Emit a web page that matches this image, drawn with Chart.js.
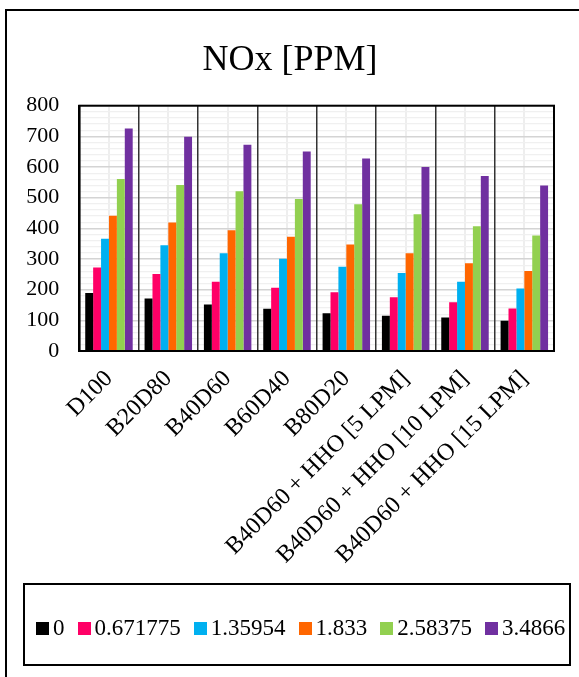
<!DOCTYPE html>
<html>
<head>
<meta charset="utf-8">
<script src="https://cdn.jsdelivr.net/npm/chart.js@4/dist/chart.umd.min.js"></script>
<style>
  html, body { margin: 0; padding: 0; background: #fff; width: 579px; height: 677px; overflow: hidden; }
  #frame { position: absolute; left: 5px; top: 9px; width: 700px; height: 800px; border: 2px solid #000; box-sizing: border-box; }
  #legendFrame { position: absolute; left: 23px; top: 583px; width: 548px; height: 83px; border: 2px solid #000; box-sizing: border-box; }
  #wrap { position: absolute; left: 0; top: 0; width: 579px; height: 677px; }
  #legend { position: absolute; left: 36px; top: 614px; height: 28px; display: flex; align-items: center;
            font-family: 'Liberation Serif', 'Times New Roman', serif; font-size: 23px; color: #000; white-space: nowrap; }
  #legend .item { display: flex; align-items: center; margin-right: 13px; }
  #legend .item:last-child { margin-right: 0; }
  #legend .sw { display: inline-block; width: 13px; height: 13px; margin-right: 4px; }
</style>
</head>
<body>
<div id="frame"></div>
<div id="legendFrame"></div>
<div id="wrap"><canvas id="chart" width="579" height="677"></canvas></div>
<div id="legend"></div>
<script>
// Fuel blends on the category axis
const categories = ['D100', 'B20D80', 'B40D60', 'B60D40', 'B80D20',
  'B40D60 + HHO [5 LPM]', 'B40D60 + HHO [10 LPM]', 'B40D60 + HHO [15 LPM]'];

// Series names (legend entries)
const seriesNames = ['0', '0.671775', '1.35954', '1.833', '2.58375', '3.4866'];

// NOx emissions [PPM] for each series, one value per blend
const nox_0        = [189, 171, 152, 138, 123, 115, 109, 99];
const nox_0671775  = [272, 251, 226, 206, 192, 175, 159, 139];
const nox_135954   = [366, 345, 319, 301, 275, 254, 226, 204];
const nox_1833     = [441, 419, 394, 373, 347, 319, 286, 261];
const nox_258375   = [561, 541, 521, 496, 479, 446, 407, 377];
const nox_34866    = [726, 699, 673, 651, 628, 600, 571, 540];

// Value axis range
const yMin = 0;
const yMax = 800;
const yMajorStep = 100;
const yMinorStep = 20;

const seriesValues = [nox_0, nox_0671775, nox_135954, nox_1833, nox_258375, nox_34866];
const seriesColors = ['#000000', '#FF0066', '#00B0F0', '#FF6600', '#92D050', '#7030A0'];

const serif = "'Liberation Serif', 'Times New Roman', serif";

// Black frame around the plotting area
const plotFrame = {
  id: 'plotFrame',
  afterDatasetsDraw(chart) {
    const { ctx, chartArea: a } = chart;
    ctx.save();
    ctx.strokeStyle = '#000';
    ctx.lineWidth = 2;
    ctx.strokeRect(a.left, a.top, a.right - a.left, a.bottom - a.top);
    ctx.restore();
  }
};

// Legend row built from the chart's own legend items
const htmlLegend = {
  id: 'htmlLegend',
  afterUpdate(chart) {
    const box = document.getElementById('legend');
    box.innerHTML = '';
    const items = chart.options.plugins.legend.labels.generateLabels(chart);
    items.forEach((it) => {
      const item = document.createElement('span');
      item.className = 'item';
      const sw = document.createElement('span');
      sw.className = 'sw';
      sw.style.background = it.fillStyle;
      const txt = document.createElement('span');
      txt.textContent = it.text;
      item.appendChild(sw);
      item.appendChild(txt);
      box.appendChild(item);
    });
  }
};

new Chart(document.getElementById('chart'), {
  type: 'bar',
  data: {
    labels: categories,
    datasets: seriesNames.map((name, i) => ({
      label: name,
      data: seriesValues[i],
      backgroundColor: seriesColors[i],
      borderWidth: 0,
      categoryPercentage: 0.8,
      barPercentage: 1.0
    }))
  },
  options: {
    responsive: false,
    animation: false,
    layout: { padding: { top: 10, left: 26, right: 25, bottom: 70 } },
    plugins: {
      title: {
        display: true,
        text: 'NOx [PPM]',
        color: '#000',
        font: { family: serif, size: 36, weight: 'normal', lineHeight: 1.2 },
        padding: { top: 29, bottom: 23.5 }
      },
      legend: { display: false },
      tooltip: { enabled: false }
    },
    scales: {
      x: {
        type: 'category',
        offset: true,
        grid: { offset: true, color: '#333', lineWidth: 1.5, drawTicks: false, z: 0 },
        border: { display: true, color: '#000', width: 2 },
        ticks: {
          color: '#000',
          font: { family: serif, size: 24 },
          maxRotation: 45,
          minRotation: 45,
          autoSkip: false,
          padding: 14
        },
        afterFit(scale) { scale.height = 256; }
      },
      xMid: {
        type: 'category',
        position: 'top',
        labels: categories,
        offset: true,
        grid: { offset: false, color: '#eeeeee', lineWidth: 2, drawTicks: false },
        border: { display: false },
        ticks: { display: false },
        afterFit(scale) { scale.height = 0; }
      },
      y: {
        min: yMin,
        max: yMax,
        grid: {
          drawTicks: false,
          color: (c) => (c.tick && c.tick.value % yMajorStep === 0) ? '#d4d4d4' : '#f0f0f0',
          lineWidth: (c) => (c.tick && c.tick.value % yMajorStep === 0) ? 1.5 : 1.2
        },
        border: { display: true, color: '#000', width: 2 },
        ticks: {
          stepSize: yMinorStep,
          autoSkip: false,
          color: '#000',
          font: { family: serif, size: 22 },
          padding: 20,
          callback: (v) => (v % yMajorStep === 0 ? String(v) : '')
        },
        afterFit(scale) { scale.width = 53.3; }
      }
    }
  },
  plugins: [plotFrame, htmlLegend]
});
</script>
</body>
</html>
